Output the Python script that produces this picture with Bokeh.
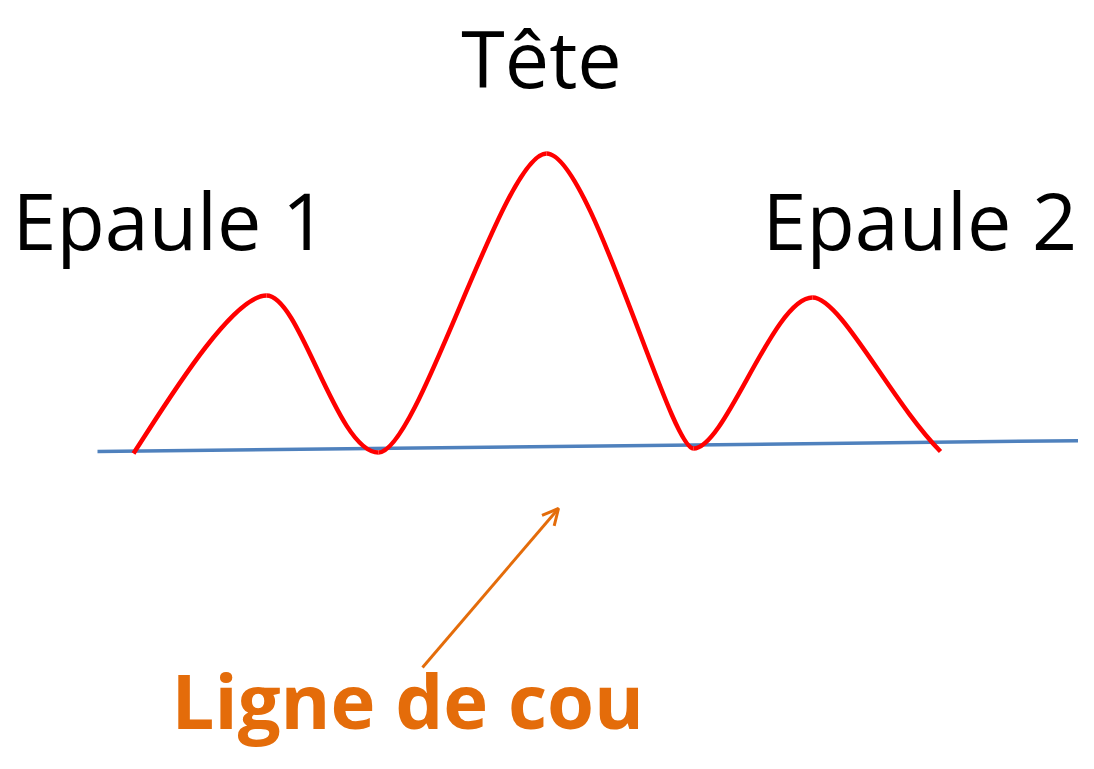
from bokeh.plotting import figure
from bokeh.models import Range1d, Arrow, OpenHead
from bokeh.core.properties import value
from bokeh.embed import file_html
from bokeh.resources import INLINE

# --- data (pixel positions read from the reference, y measured from the top) ---
# red price curve: cubic bezier segments between key points
seg_x0 = [133, 266, 378, 546, 693, 812]
seg_y0 = [453, 295, 452, 153, 448, 297]
seg_x1 = [266, 378, 546, 693, 812, 940]
seg_y1 = [295, 452, 153, 448, 297, 451]
seg_cx0 = [160, 300, 418, 590, 725, 840]
seg_cy0 = [412, 295, 452, 153, 448, 297]
seg_cx1 = [230, 336, 503, 669, 773, 890]
seg_cy1 = [295, 452, 153, 448, 297, 400]

# neckline
neck_x = [97, 1094]
neck_y = [451, 440]

# arrow pointing to the neckline
arrow_x = [422, 558]
arrow_y = [667, 508]

# labels (y = vertical middle of the letters)
label_text = ["Epaule 1", "Tête", "Epaule 2"]
label_x = [12, 541, 762]
label_y = [219, 57, 219]
label_align = ["left", "center", "left"]

neck_label = ["Ligne de cou"]
neck_label_x = [171]
neck_label_y = [699]

W, H = 1078, 753
flip = lambda ys: [H - v for v in ys]

p = figure(width=W, height=H, output_backend="svg", toolbar_location=None,
           x_range=Range1d(0, W), y_range=Range1d(0, H), min_border=0)
p.axis.visible = False
p.grid.visible = False
p.outline_line_color = None
p.background_fill_color = "white"
p.border_fill_color = "white"

p.line(neck_x, flip(neck_y), line_color="#4F81BD", line_width=3.5)

p.bezier(x0=seg_x0, y0=flip(seg_y0), x1=seg_x1, y1=flip(seg_y1),
         cx0=seg_cx0, cy0=flip(seg_cy0), cx1=seg_cx1, cy1=flip(seg_cy1),
         line_color="#FF0000", line_width=4.5)

ay = flip(arrow_y)
p.add_layout(Arrow(x_start=arrow_x[0], y_start=ay[0],
                   x_end=arrow_x[1], y_end=ay[1],
                   line_color="#E46C0A", line_width=3,
                   end=OpenHead(size=16, line_color="#E46C0A", line_width=3)))

p.text(x=label_x, y=flip(label_y), text=label_text, text_font=value("Open Sans"),
       text_font_size="79px", text_color="black",
       text_baseline="middle", text_align=label_align)

p.text(x=neck_label_x, y=flip(neck_label_y), text=neck_label, text_font=value("Open Sans"),
       text_font_style="bold", text_font_size="76px", text_color="#E46C0A",
       text_baseline="middle", text_align="left")

open("out.html", "w").write(file_html(p, INLINE))
